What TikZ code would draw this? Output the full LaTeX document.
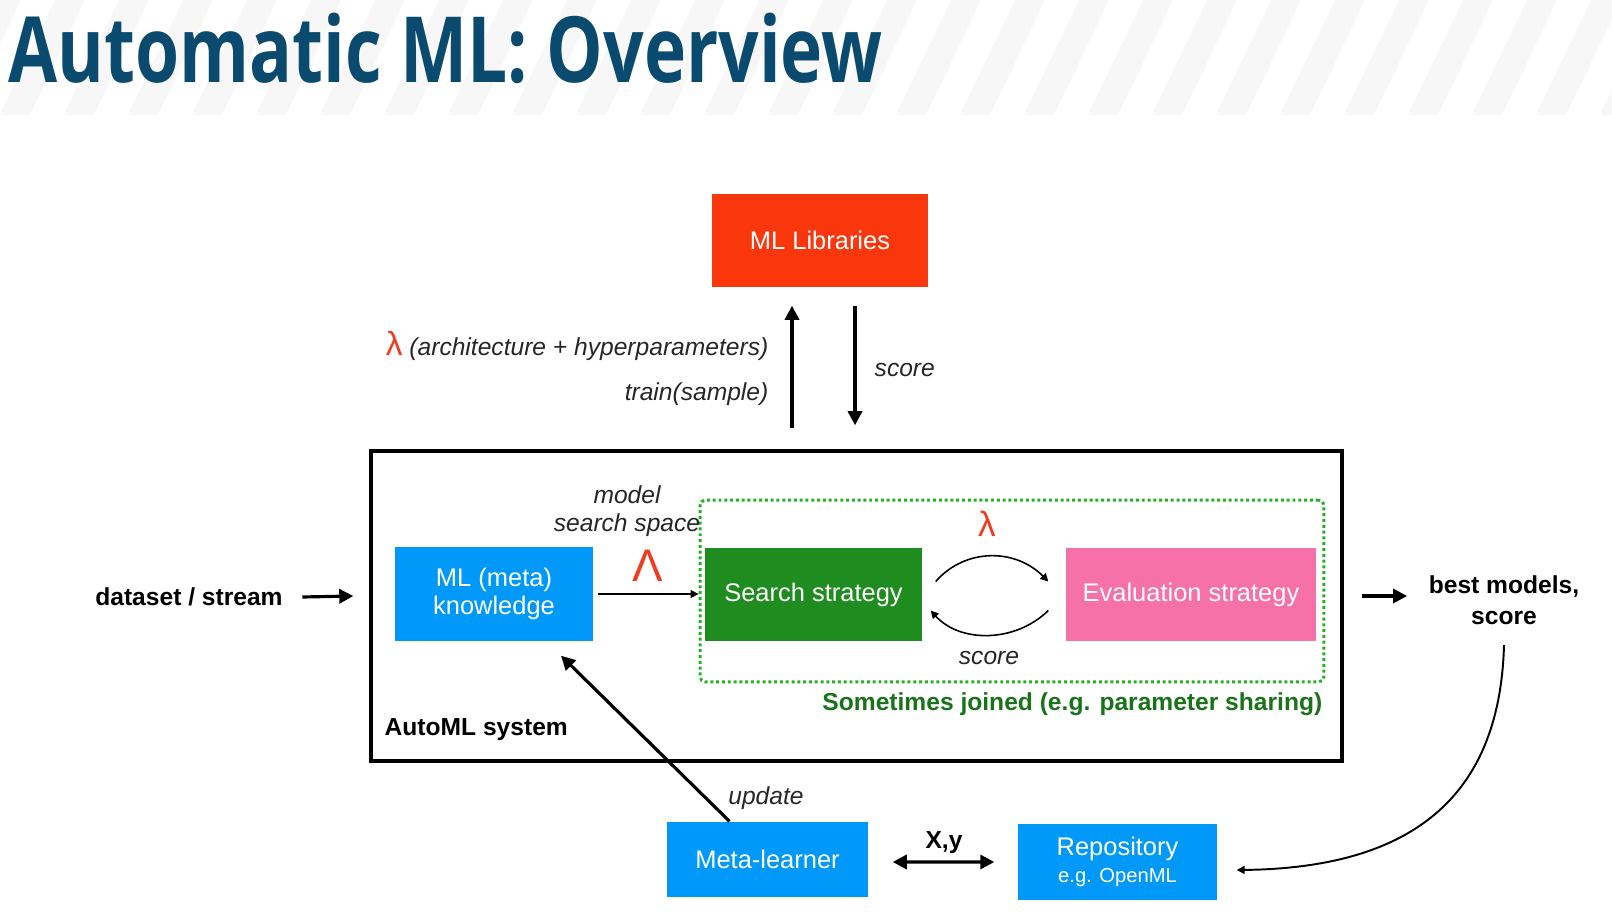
\documentclass[tikz,border=0pt]{standalone}
\usepackage{fontspec}
\setmainfont{Liberation Sans}
\newfontfamily\titlefont[FakeStretch=0.78]{Open Sans}
\usetikzlibrary{arrows.meta}
\definecolor{titleblue}{RGB}{10,74,110}
\definecolor{stripegray}{RGB}{247,247,247}
\definecolor{libred}{RGB}{250,55,12}
\definecolor{kblue}{RGB}{0,153,250}
\definecolor{sgreen}{RGB}{30,140,30}
\definecolor{epink}{RGB}{246,113,168}
\definecolor{dotgreen}{RGB}{40,175,40}
\definecolor{jgreen}{RGB}{25,115,25}
\definecolor{lamred}{RGB}{240,60,30}

\begin{document}
\begin{tikzpicture}[x=0.02cm,y=-0.02cm,line width=0.8pt,>=Stealth]
\tikzset{tbox/.style={inner sep=0pt,text=white,align=center,
    font=\fontsize{14.5}{17}\selectfont},
  lbl/.style={inner sep=0pt,font=\fontsize{14}{17}\selectfont\itshape,text=black!85},
  blbl/.style={inner sep=0pt,align=center,font=\fontsize{14}{17.5}\selectfont\bfseries},
  bigarrow/.style={line width=1.8pt,-{Triangle[length=8pt,width=8pt]}},
  thinarrow/.style={line width=0.9pt,-{Triangle[length=4.5pt,width=4.5pt]}}}
\useasboundingbox (0,0) rectangle (1612,912);
% ---------- title band ----------
\begin{scope}
  \clip (0,0) rectangle (1612,115);
  \foreach \i in {-2,...,27}
    \fill[stripegray] (\i*64,115) -- (\i*64+30,115) -- (\i*64+85,0) -- (\i*64+55,0) -- cycle;
\end{scope}
\node[anchor=base west,inner sep=0pt,text=titleblue,
  font=\titlefont\bfseries\fontsize{52}{52}\selectfont] (title) at (8,83) {Automatic ML: Overview};
% ---------- ML libraries ----------
\node[tbox,fill=libred,minimum width=4.32cm,minimum height=1.86cm] (lib) at (820,240.5) {ML Libraries};
\node[lbl,anchor=east] (lam) at (769,346) {{\color{lamred}\upshape\fontsize{19}{19}\selectfont λ} (architecture + hyperparameters)};
\node[lbl,anchor=east] (train) at (769,394) {train(sample)};
\node[lbl,anchor=west] (libscore) at (874,370) {score};
% ---------- AutoML system ----------
\node[draw,line width=2pt,minimum width=19.42cm,minimum height=6.2cm] (sys) at (856.5,606) {};
\node[draw=dotgreen,line width=1.7pt,dash pattern=on 1.7pt off 1.6pt,rounded corners=3pt,
  minimum width=12.48cm,minimum height=3.64cm] (joined) at (1012,591) {};
\draw[bigarrow] ([shift={(-64.5,-21)}]sys.north) -- ([shift={(-28,18)}]lib.south);
\draw[bigarrow] ([shift={(35,18)}]lib.south) -- ([shift={(-1.5,-24)}]sys.north);
\node[tbox,fill=kblue,minimum width=3.96cm,minimum height=1.88cm] (know) at (494,594) {ML (meta)\\[-1pt]knowledge};
\node[tbox,fill=sgreen,minimum width=4.34cm,minimum height=1.86cm] (search) at (813.5,594.5) {Search strategy};
\node[tbox,fill=epink,minimum width=5cm,minimum height=1.86cm] (eval) at (1191,594.5) {Evaluation strategy};
\node[lbl,align=center] (space) at (627,511) {model\\[-1pt]search space};
\node[inner sep=0pt,text=lamred,font=\fontsize{26}{26}\selectfont] (biglam) at (648,566) {Λ};
\node[inner sep=0pt,text=lamred,font=\fontsize{20}{20}\selectfont] (smalllam) at (987,524) {λ};
\draw[thinarrow] ([shift={(4,0)}]know.east) -- (know.east -| joined.west);
\draw[thinarrow] ([shift={(13,-13)}]search.east) .. controls (965,548) and (1015,548) .. ([shift={(-17,-13)}]eval.west);
\draw[thinarrow] ([shift={(-17,16)}]eval.west) .. controls (1015,643) and (960,643) .. ([shift={(8,16)}]search.east);
\node[lbl] (evscore) at (989,658) {score};
\node[blbl,text=jgreen,anchor=east] (jtext) at (1323,704) {Sometimes joined (e.g. parameter sharing)};
\node[blbl,anchor=west] (systext) at (384,730) {AutoML system};
% ---------- input / output ----------
\node[blbl] (data) at (189,597) {dataset / stream};
\node[blbl] (best) at (1504,600) {best models,\\score};
\draw[bigarrow] ([shift={(19,0)}]data.east) -- ([shift={(-16,-10)}]sys.west);
\draw[bigarrow] ([shift={(18,-10)}]sys.east) -- ([shift={(-21,-4)}]best.west);
% ---------- meta-learning ----------
\node[tbox,fill=kblue,minimum width=4.02cm,minimum height=1.5cm] (meta) at (767.5,859.5) {Meta-learner};
\node[tbox,fill=kblue,minimum width=3.98cm,minimum height=1.52cm] (repo) at (1117.5,862) {Repository\\[-2pt]{\fontsize{11.5}{13}\selectfont e.g. OpenML}};
\draw[bigarrow] ([shift={(-38,0)}]meta.north) -- ([shift={(67,14)}]know.south);
\node[lbl] (upd) at (766,798) {update};
\draw[line width=1.8pt,{Triangle[length=8pt,width=8pt]}-{Triangle[length=8pt,width=8pt]}]
  ([shift={(24,2.5)}]meta.east) -- ([shift={(-23,0)}]repo.west);
\node[blbl] (xy) at (944,843) {X,y};
\draw[thinarrow,line width=1.1pt] ([shift={(0,20)}]best.south) .. controls (1500,790) and (1420,868) .. ([shift={(19,8)}]repo.east);
\end{tikzpicture}
\end{document}
